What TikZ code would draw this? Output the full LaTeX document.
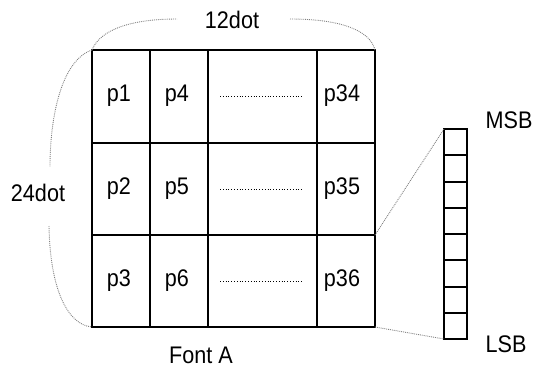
\documentclass[tikz,border=0pt]{standalone}
\usepackage{fontspec}
\setmainfont[FakeStretch=0.9]{Liberation Sans}
\usepackage{tikz}
\usetikzlibrary{arrows.meta}

\begin{document}
\begin{tikzpicture}[x=1pt,y=-1pt,
        gridline/.style={black, line width=2},
        dotline/.style={gray, densely dotted, line width=0.9},
        fillerdots/.style={black, dotted, line width=0.8},
        lbl/.style={font=\fontsize{24}{28}\selectfont, inner sep=0pt}]
            \useasboundingbox (0,0) rectangle (536,373);
            % the 3x4 cell block
            \draw[gridline] (92,50) rectangle (375,327);
            \draw[gridline] (92,143) -- (375,143);
            \draw[gridline] (92,235) -- (375,235);
            \draw[gridline] (150,50) -- (150,327);
            \draw[gridline] (208,50) -- (208,327);
            \draw[gridline] (317,50) -- (317,327);
            \node[lbl] (p1) at (119,96) {p1};
            \node[lbl] (p2) at (119,189) {p2};
            \node[lbl] (p3) at (119,281) {p3};
            \node[lbl] (p4) at (177,96) {p4};
            \node[lbl] (p5) at (177,189) {p5};
            \node[lbl] (p6) at (177,281) {p6};
            \node[lbl] (p34) at (342,96) {p34};
            \node[lbl] (p35) at (342,189) {p35};
            \node[lbl] (p36) at (342,281) {p36};
            \draw[fillerdots] (220,96) -- (302,96);
            \draw[fillerdots] (220,189) -- (302,189);
            \draw[fillerdots] (220,281) -- (302,281);
            % size braces
            \draw[dotline] (92,50) .. controls (100,30) and (130,19) .. (177,19);
            \draw[dotline] (290,19) .. controls (340,19) and (370,30) .. (375,50);
            \draw[dotline] (92,50) .. controls (62,60) and (50,115) .. (50,167);
            \draw[dotline] (49,226) .. controls (50,290) and (68,325) .. (92,327);
            \node[lbl] (width) at (232,20) {12dot};
            \node[lbl] (height) at (38,193) {24dot};
            \node[lbl] (font) at (201,355) {Font A};
            % one column byte, MSB on top
            \draw[gridline] (444,129) rectangle (467,339);
            \foreach \y in {155.25,181.5,207.75,234,260.25,286.5,312.75}
                \draw[gridline] (444,\y) -- (467,\y);
            \draw[dotline] (375,235) -- (444,129);
            \draw[dotline] (375,327) -- (444,339);
            \node[lbl] (msb) at (509,120) {MSB};
            \node[lbl] (lsb) at (506,344) {LSB};
        \end{tikzpicture}
\end{document}
